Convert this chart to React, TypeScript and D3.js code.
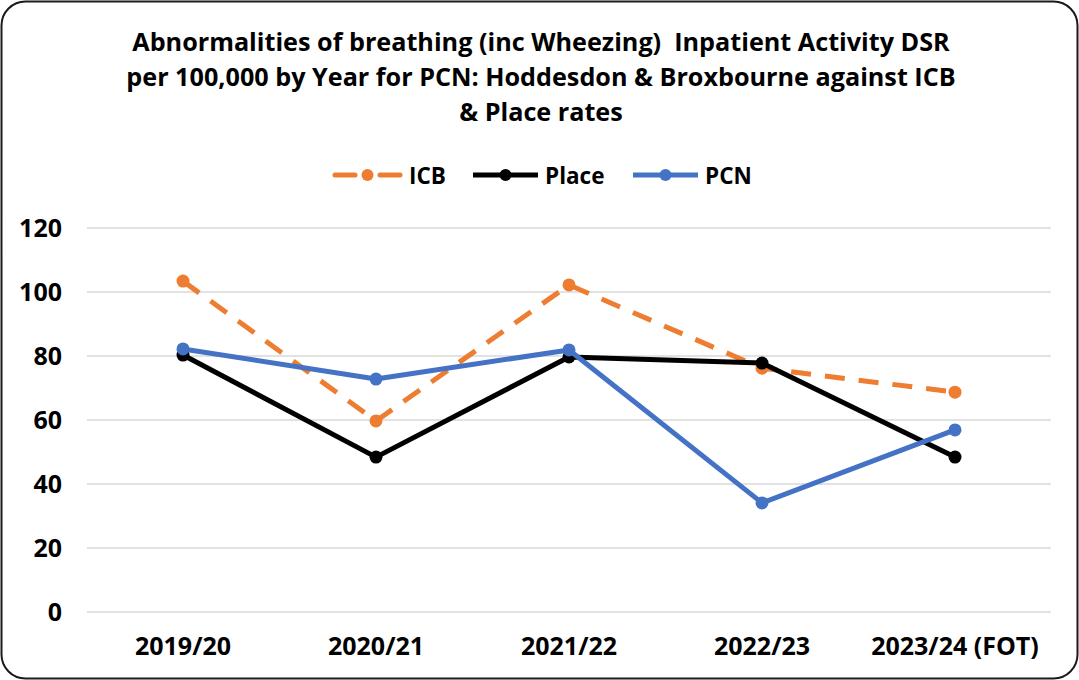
import React from "react";
import * as d3 from "d3";

const categories = ["2019/20", "2020/21", "2021/22", "2022/23", "2023/24 (FOT)"];
const icbValues = [103.4, 59.7, 102.2, 76.2, 68.7];
const placeValues = [80.3, 48.4, 79.7, 77.8, 48.4];
const pcnValues = [82.2, 72.8, 81.9, 34.1, 56.9];
const yTicks = [0, 20, 40, 60, 80, 100, 120];
const titleLines = [
  "Abnormalities of breathing (inc Wheezing)  Inpatient Activity DSR",
  "per 100,000 by Year for PCN: Hoddesdon & Broxbourne against ICB",
  "& Place rates",
];

const W = 1079;
const H = 680;
const FONT = "'Open Sans', Lato, sans-serif";

const series = [
  { name: "ICB", values: icbValues, color: "#ED7D31", dash: "20,14" },
  { name: "Place", values: placeValues, color: "#000000", dash: null },
  { name: "PCN", values: pcnValues, color: "#4472C4", dash: null },
];

export default function App() {
  const x = d3.scalePoint<string>().domain(categories).range([183, 955]);
  const y = d3.scaleLinear().domain([0, 120]).range([612, 228]);
  const line = d3
    .line<number>()
    .x((_, i) => x(categories[i]) as number)
    .y((d) => y(d));

  const legendItems = [
    { s: series[0], lx: 335, tx: 409 },
    { s: series[1], lx: 473, tx: 545 },
    { s: series[2], lx: 633, tx: 705 },
  ];

  return (
    <svg width={W} height={H} style={{ position: "absolute", left: 0, top: 0 }} fontFamily={FONT}>
      <rect x={0} y={0} width={W} height={H} fill="#ffffff" />
      <rect x={1.5} y={1.5} width={W - 3} height={H - 3} rx={24} ry={24} fill="#ffffff" stroke="#1a1a1a" strokeWidth={2} />
      {titleLines.map((t, i) => (
        <text
          key={i}
          x={541}
          y={51 + i * 35}
          textAnchor="middle"
          fontSize={25.2}
          fontWeight="bold"
          fill="#000"
          style={{ whiteSpace: "pre" }}
        >
          {t}
        </text>
      ))}
      {legendItems.map(({ s, lx, tx }) => (
        <g key={s.name}>
          {s.dash ? (
            <>
              <line x1={lx} x2={lx + 20} y1={175} y2={175} stroke={s.color} strokeWidth={5} strokeLinecap="round" />
              <line x1={lx + 45} x2={lx + 65} y1={175} y2={175} stroke={s.color} strokeWidth={5} strokeLinecap="round" />
            </>
          ) : (
            <line x1={lx} x2={lx + 65} y1={175} y2={175} stroke={s.color} strokeWidth={5} />
          )}
          <circle cx={lx + 32.5} cy={175} r={6} fill={s.color} />
          <text x={tx} y={183.5} fontSize={22.5} fontWeight="bold" fill="#000">
            {s.name}
          </text>
        </g>
      ))}
      {yTicks.map((t) => (
        <g key={t}>
          <line x1={87} x2={1051} y1={y(t)} y2={y(t)} stroke="#d9d9d9" strokeWidth={1.5} />
          <text x={62} y={y(t) + 9} textAnchor="end" fontSize={25} fontWeight="bold" fill="#000">
            {t}
          </text>
        </g>
      ))}
      {categories.map((c) => (
        <text key={c} x={x(c)} y={655} textAnchor="middle" fontSize={25} fontWeight="bold" fill="#000">
          {c}
        </text>
      ))}
      {series.map((s) => (
        <g key={s.name}>
          <path
            d={line(s.values) || ""}
            fill="none"
            stroke={s.color}
            strokeWidth={5}
            strokeDasharray={s.dash || undefined}
            strokeLinejoin="round"
          />
          {s.values.map((v, i) => (
            <circle key={i} cx={x(categories[i])} cy={y(v)} r={6.5} fill={s.color} />
          ))}
        </g>
      ))}
    </svg>
  );
}
